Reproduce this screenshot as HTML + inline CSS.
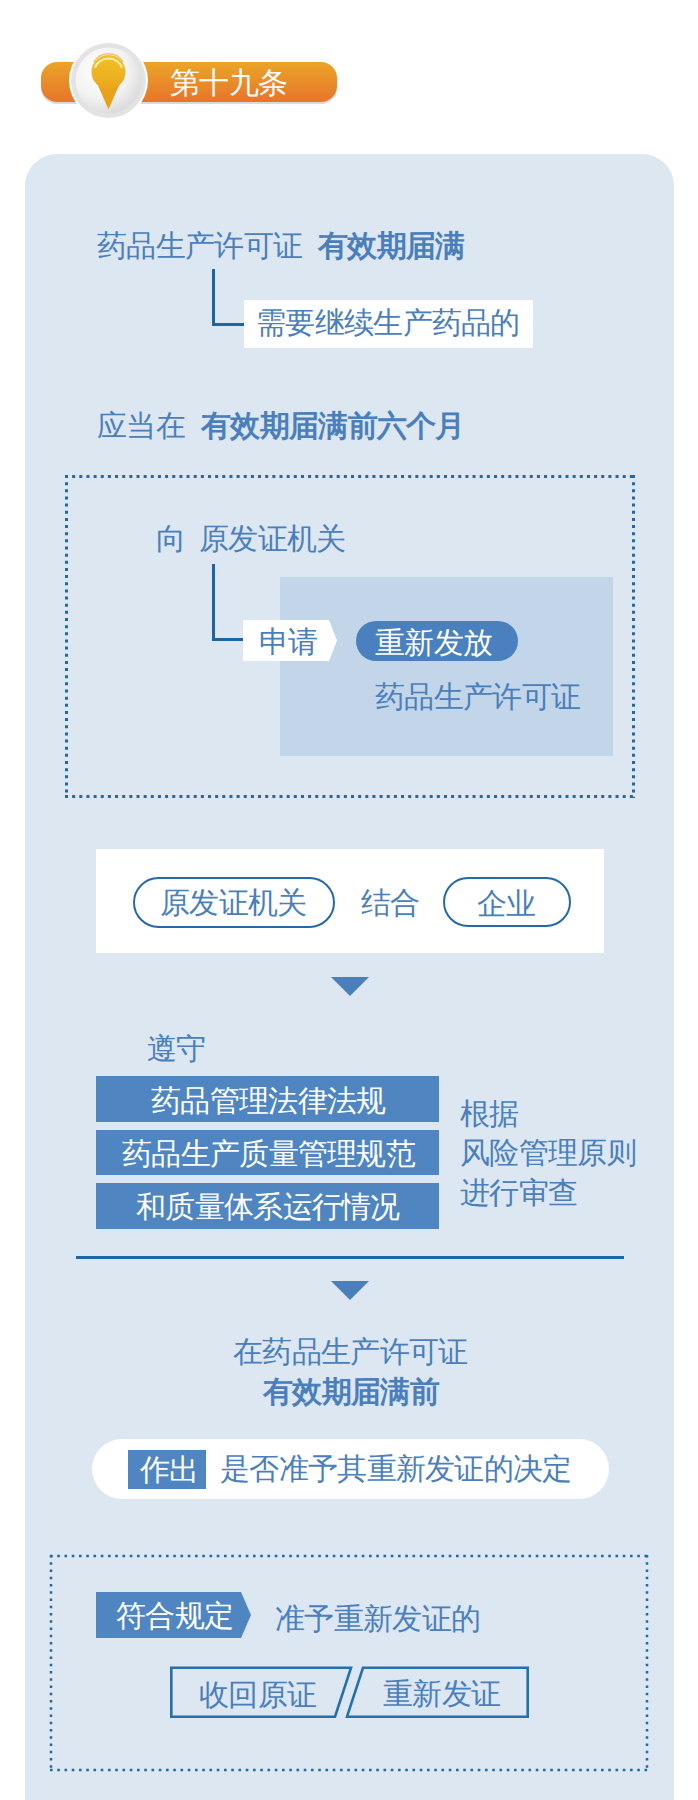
<!DOCTYPE html>
<html><head><meta charset="utf-8">
<style>
html,body{margin:0;padding:0;}
body{width:698px;height:1800px;position:relative;overflow:hidden;background:#ffffff;font-family:"Liberation Sans",sans-serif;}
.a{position:absolute;}
.t{position:absolute;white-space:nowrap;font-size:29.8px;line-height:30px;letter-spacing:-0.7px;color:#4a7fbc;font-weight:500;}
.b{font-weight:900;}
.w{color:#ffffff;}
</style></head><body>

<!-- header pill -->
<div class="a" style="left:41px;top:62px;width:296px;height:40px;border-radius:16px;background:linear-gradient(#eba527,#e7742b);box-shadow:0 2px 0 #d9d9d9;"></div>
<svg class="a" style="left:0;top:0" width="200" height="140">
  <defs>
    <radialGradient id="disk" cx="0.38" cy="0.35" r="0.75">
      <stop offset="0" stop-color="#ffffff"/><stop offset="0.55" stop-color="#f3f3f3"/><stop offset="1" stop-color="#d4d4d4"/>
    </radialGradient>
    <linearGradient id="pin" x1="0" y1="0" x2="0" y2="1">
      <stop offset="0" stop-color="#f1c227"/><stop offset="1" stop-color="#eaa71d"/>
    </linearGradient>
  </defs>
  <circle cx="108.5" cy="80.5" r="39.5" fill="#ffffff"/>
  <circle cx="108.5" cy="80.5" r="37.5" fill="#e3e3e3"/>
  <circle cx="108.5" cy="80.5" r="33" fill="url(#disk)"/>
  <path d="M96.5 82 L108.5 109.5 L120.5 82 Z" fill="#e9a11c"/>
  <circle cx="108.5" cy="72" r="17" fill="url(#pin)"/>
  <path d="M95 68 A14 13 0 0 1 122 68" stroke="#fff6c8" stroke-width="2" fill="none" opacity="0.85"/>
  <path d="M94 62 A17 17 0 0 1 123 62" stroke="#e8a818" stroke-width="1.5" fill="none" opacity="0.6"/>
</svg>
<div class="t w" style="left:170px;top:68px;">第十九条</div>

<!-- main panel -->
<div class="a" style="left:25px;top:154px;width:649px;height:1700px;border-radius:32px;background:#dce7f2;"></div>

<!-- section 1 -->
<div class="t" style="left:97px;top:231px;">药品生产许可证</div>
<div class="t b" style="left:318px;top:231px;">有效期届满</div>
<div class="a" style="left:212px;top:269px;width:3px;height:57px;background:#1d65a3;"></div>
<div class="a" style="left:212px;top:323px;width:32px;height:3px;background:#1d65a3;"></div>
<div class="a" style="left:244px;top:300px;width:289px;height:48px;background:#ffffff;"></div>
<div class="t" style="left:256px;top:308px;">需要继续生产药品的</div>

<div class="t" style="left:97px;top:411px;">应当在</div>
<div class="t b" style="left:201px;top:411px;">有效期届满前六个月</div>


<!-- section 2: dotted box -->
<svg class="a" style="left:0;top:0" width="698" height="1800">
  <g stroke="#1e69a7" stroke-width="3" fill="none">
    <line x1="65" y1="476.5" x2="636" y2="476.5" stroke-dasharray="3 4.15"/>
    <line x1="65" y1="796.5" x2="636" y2="796.5" stroke-dasharray="3 4.15"/>
    <line x1="66.5" y1="475" x2="66.5" y2="798" stroke-dasharray="3 4.15"/>
    <line x1="633.5" y1="475" x2="633.5" y2="798" stroke-dasharray="3 4.15"/>
  </g>
  <g stroke="#1e69a7" stroke-width="2.5" fill="none">
    <line x1="50" y1="1556" x2="649" y2="1556" stroke-dasharray="2.6 4.65"/>
    <line x1="50" y1="1770" x2="649" y2="1770" stroke-dasharray="2.6 4.65"/>
    <line x1="51" y1="1555" x2="51" y2="1772" stroke-dasharray="2.6 4.65"/>
    <line x1="647" y1="1555" x2="647" y2="1772" stroke-dasharray="2.6 4.65"/>
  </g>
</svg>
<div class="t" style="left:156px;top:524px;">向</div>
<div class="t" style="left:199px;top:524px;">原发证机关</div>
<div class="a" style="left:280px;top:577px;width:333px;height:179px;background:#c3d5e8;"></div>
<div class="a" style="left:212px;top:564px;width:3px;height:77px;background:#1d65a3;"></div>
<div class="a" style="left:212px;top:638px;width:32px;height:3px;background:#1d65a3;"></div>
<svg class="a" style="left:243px;top:620px" width="96" height="42"><path d="M0 0 H86 L94 20.5 L86 41 H0 Z" fill="#ffffff"/></svg>
<div class="t" style="left:259px;top:627px;">申请</div>
<div class="a" style="left:356px;top:621px;width:162px;height:40px;border-radius:20px;background:#4a80bd;"></div>
<div class="t w" style="left:375px;top:628px;">重新发放</div>
<div class="t" style="left:375px;top:682px;">药品生产许可证</div>

<!-- section 3 -->
<div class="a" style="left:96px;top:849px;width:508px;height:104px;background:#ffffff;"></div>
<div class="a" style="left:133px;top:877px;width:202px;height:51px;box-sizing:border-box;border:2.5px solid #256aa6;border-radius:26px;"></div>
<div class="t" style="left:160px;top:888px;">原发证机关</div>
<div class="t" style="left:361px;top:888px;">结合</div>
<div class="a" style="left:443px;top:877px;width:128px;height:50px;box-sizing:border-box;border:2.5px solid #256aa6;border-radius:25px;"></div>
<div class="t" style="left:477px;top:889px;">企业</div>
<svg class="a" style="left:0;top:0" width="698" height="1800">
  <path d="M331 977 H369 L350 996 Z" fill="#4a7fbb"/>
  <path d="M331 1281 H369 L350 1300 Z" fill="#4a7fbb"/>
</svg>

<!-- section 4 -->
<div class="t" style="left:147px;top:1034px;">遵守</div>
<div class="a" style="left:96px;top:1076px;width:343px;height:46px;background:#4f86c2;"></div>
<div class="a" style="left:96px;top:1130px;width:343px;height:45px;background:#4f86c2;"></div>
<div class="a" style="left:96px;top:1183px;width:343px;height:46px;background:#4f86c2;"></div>
<div class="t w" style="left:151px;top:1086px;">药品管理法律法规</div>
<div class="t w" style="left:122px;top:1139px;">药品生产质量管理规范</div>
<div class="t w" style="left:136px;top:1192px;">和质量体系运行情况</div>
<div class="t" style="left:460px;top:1099px;">根据</div>
<div class="t" style="left:460px;top:1138px;">风险管理原则</div>
<div class="t" style="left:460px;top:1178px;">进行审查</div>
<div class="a" style="left:76px;top:1256px;width:548px;height:3px;background:#1a69a6;"></div>

<!-- section 5 -->
<div class="t" style="left:233px;top:1337px;">在药品生产许可证</div>
<div class="t b" style="left:263px;top:1377px;">有效期届满前</div>
<div class="a" style="left:92px;top:1439px;width:517px;height:60px;border-radius:30px;background:#ffffff;"></div>
<div class="a" style="left:128px;top:1450px;width:78px;height:39px;background:#4f86c2;"></div>
<div class="t w" style="left:140px;top:1455px;">作出</div>
<div class="t" style="left:220px;top:1454px;">是否准予其重新发证的决定</div>

<!-- section 6 -->
<svg class="a" style="left:96px;top:1592px" width="160" height="48"><path d="M0 0 H145 L155 23 L145 46 H0 Z" fill="#4f86c2"/></svg>
<div class="t w" style="left:116px;top:1601px;">符合规定</div>
<div class="t" style="left:275px;top:1604px;">准予重新发证的</div>
<svg class="a" style="left:0;top:0" width="698" height="1800">
  <g stroke="#2470ac" stroke-width="2.6" fill="none">
    <path d="M171.3 1667.8 H351 L335 1716.7 H171.3 Z"/>
    <path d="M363 1667.8 H527.7 V1716.7 H347 Z"/>
  </g>
</svg>
<div class="t" style="left:199px;top:1680px;">收回原证</div>
<div class="t" style="left:383px;top:1679px;">重新发证</div>

</body></html>
